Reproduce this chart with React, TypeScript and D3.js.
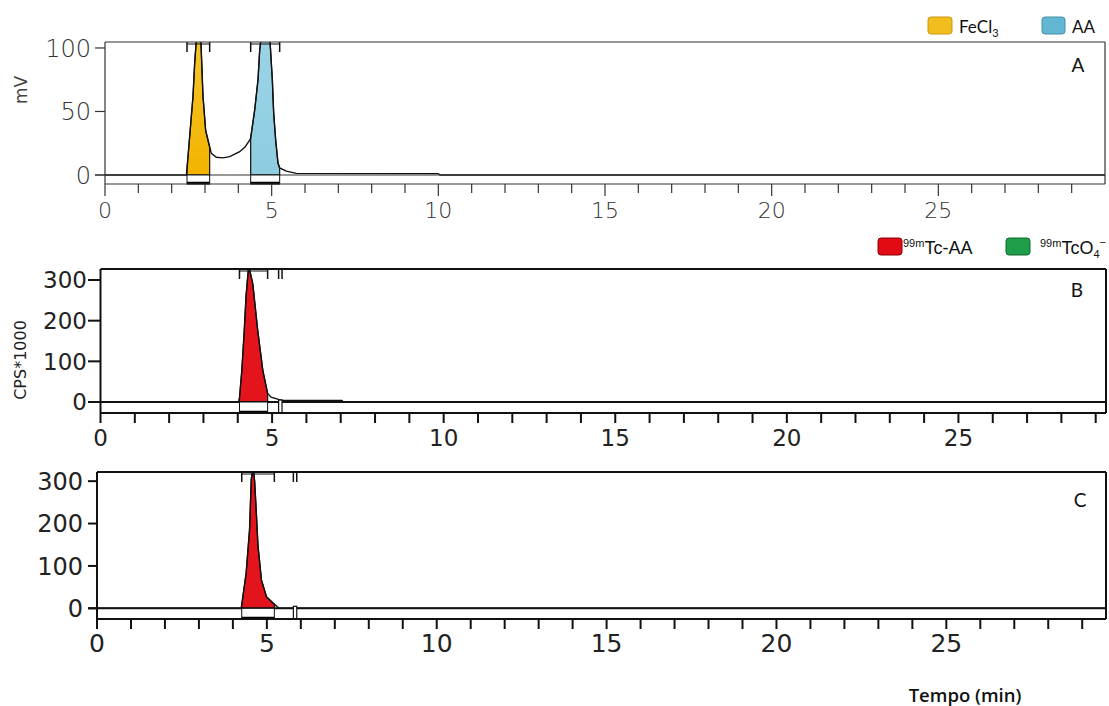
import React from 'react';
import * as d3 from 'd3';

// ---------- DATA ----------
// Panel A (UV, mV)
const timeA = [0, 2.44, 2.46, 2.52, 2.64, 2.69, 2.75, 2.8, 2.87, 2.94, 3.02, 3.14, 3.19, 3.34, 3.54, 3.74, 4.04, 4.2, 4.34, 4.37, 4.49, 4.59, 4.64, 4.69, 4.79, 4.94, 5.02, 5.06, 5.12, 5.19, 5.24, 5.44, 5.74, 10.0, 10.05, 30];
const mvA = [0, 0, 5, 24, 62, 88, 110, 180, 110, 62, 35, 22, 17, 14, 13.5, 14.4, 18.3, 22, 27.5, 29, 51, 75, 98, 110, 180, 110, 75, 49, 27.5, 9.4, 5.5, 3, 1.3, 1.1, 0, 0];
const peakStartA = [2.46, 4.37];
const peakEndA = [3.14, 5.24];
const peakNamesA = ['FeCl3', 'AA'];

// Panel B (radio, CPS*1000)
const timeB = [0, 4.02, 4.05, 4.12, 4.19, 4.24, 4.29, 4.32, 4.36, 4.44, 4.58, 4.73, 4.87, 4.97, 5.21, 5.32, 7.04, 7.07, 29.3];
const cpsB = [0, 0, 10, 80, 177, 259, 309, 335, 320, 289, 177, 78, 21, 12, 6, 4, 4, 0, 0];
const peakStartB = [4.05];
const peakEndB = [4.87];
const extraMarkB = [5.19, 5.29];

// Panel C (radio, CPS*1000)
const timeC = [0, 4.24, 4.26, 4.39, 4.49, 4.54, 4.59, 4.64, 4.69, 4.74, 4.84, 4.99, 5.18, 5.22, 5.3, 5.37, 29.7];
const cpsC = [0, 0, 8, 83, 185, 303, 335, 300, 225, 146, 67, 27, 12.5, 10, 4, 0, 0];
const peakStartC = [4.26];
const peakEndC = [5.22];
const extraMarkC = [5.78, 5.88];

const xTickLabels = [0, 5, 10, 15, 20, 25];
const yTicksA = [0, 50, 100];
const yTicksBC = [0, 100, 200, 300];

// ---------- PANEL ----------
type PanelCfg = {
  id: string;
  time: number[];
  vals: number[];
  xDomain: [number, number];
  xRange: [number, number];
  yDomain: [number, number];
  yRange: [number, number]; // [bottom, top]
  starts: number[];
  ends: number[];
  fills: string[];
  extra?: number[];
  yTicks: number[];
  axisColor: string;
  axisW: number;
  tickW: number;
  textColor: string;
  fontW: number;
  xFont: number;
  yFont: number;
  xLabelY: number;
  yLabelRight: number;
  yTickLeft: number;
  minorLen: number;
  majorLen: number;
};

function Panel({ c }: { c: PanelCfg }) {
  const x = d3.scaleLinear().domain(c.xDomain).range(c.xRange);
  const y = d3.scaleLinear().domain(c.yDomain).range(c.yRange);
  const left = c.xRange[0];
  const right = c.xRange[1];
  const bottom = c.yRange[0];
  const top = c.yRange[1];
  const pts: [number, number][] = c.time.map((t, i) => [t, c.vals[i]]);
  const line = d3.line<[number, number]>().x(d => x(d[0])).y(d => y(d[1]));
  const area = d3
    .area<[number, number]>()
    .x(d => x(d[0]))
    .y0(y(0))
    .y1(d => y(d[1]));
  const minor = d3.range(0, Math.floor(c.xDomain[1]) + 1).filter(v => x(v) <= right - 2);
  return (
    <g>
      <defs>
        <clipPath id={'clip' + c.id}>
          <rect x={left} y={top} width={right - left} height={bottom - top} />
        </clipPath>
      </defs>
      <g clipPath={`url(#clip${c.id})`}>
        {c.starts.map((s, i) => {
          const sub = pts.filter(p => p[0] >= s && p[0] <= c.ends[i]);
          return (
            <path key={i} d={area(sub) || ''} fill={c.fills[i]} stroke="#111" strokeWidth={1.2} />
          );
        })}
        <path d={line(pts) || ''} fill="none" stroke="#111" strokeWidth={1.4} />
      </g>
      <line x1={c.yTickLeft} x2={right} y1={y(0)} y2={y(0)} stroke={c.axisColor} strokeWidth={c.axisW} />
      {c.starts.map((s, i) => (
        <g key={'b' + i}>
          <rect x={x(s)} y={y(0)} width={x(c.ends[i]) - x(s)} height={bottom - y(0)} fill="#fff" stroke="#111" strokeWidth={1} />
          <line x1={x(s)} x2={x(c.ends[i])} y1={bottom - 1} y2={bottom - 1} stroke="#000" strokeWidth={2.5} />
          <line x1={x(s)} x2={x(s)} y1={top} y2={top + 10} stroke="#111" strokeWidth={1.5} />
          <line x1={x(c.ends[i])} x2={x(c.ends[i])} y1={top} y2={top + 10} stroke="#111" strokeWidth={1.5} />
          <line x1={x(s)} x2={x(c.ends[i])} y1={top + 2} y2={top + 2} stroke="#111" strokeWidth={1} />
        </g>
      ))}
      {c.extra && (
        <g>
          <rect x={x(c.extra[0])} y={y(0) - 2} width={x(c.extra[1]) - x(c.extra[0])} height={bottom - y(0) + 2} fill="#fff" stroke="#111" strokeWidth={1.2} />
          <line x1={x(c.extra[0])} x2={x(c.extra[0])} y1={top} y2={top + 10} stroke="#111" strokeWidth={1.5} />
          <line x1={x(c.extra[1])} x2={x(c.extra[1])} y1={top} y2={top + 10} stroke="#111" strokeWidth={1.5} />
        </g>
      )}
      <line x1={left} x2={right} y1={top} y2={top} stroke={c.axisColor} strokeWidth={c.axisW} />
      <line x1={left} x2={right} y1={bottom} y2={bottom} stroke={c.axisColor} strokeWidth={c.axisW} />
      <line x1={left} x2={left} y1={top} y2={bottom} stroke={c.axisColor} strokeWidth={c.axisW} />
      <line x1={right} x2={right} y1={top} y2={bottom} stroke={c.axisColor} strokeWidth={c.axisW} />
      {minor.map(v => (
        <line
          key={'t' + v}
          x1={x(v)}
          x2={x(v)}
          y1={bottom}
          y2={bottom + (v % 5 === 0 ? c.majorLen : c.minorLen)}
          stroke={c.axisColor}
          strokeWidth={c.tickW}
        />
      ))}
      {xTickLabels.map(v => (
        <text key={'l' + v} x={x(v)} y={c.xLabelY} textAnchor="middle" fontFamily="DejaVu Sans" fontWeight={c.fontW} fontSize={c.xFont} fill={c.textColor}>
          {v}
        </text>
      ))}
      {c.yTicks.map(v => (
        <g key={'y' + v}>
          <line x1={c.yTickLeft} x2={left} y1={y(v)} y2={y(v)} stroke={c.axisColor} strokeWidth={c.tickW} />
          <text x={c.yLabelRight} y={y(v) + c.yFont * 0.36} textAnchor="end" fontFamily="DejaVu Sans" fontWeight={c.fontW} fontSize={c.yFont} fill={c.textColor}>
            {v}
          </text>
        </g>
      ))}
    </g>
  );
}

export default function App() {
  const panelA: PanelCfg = {
    id: 'A', time: timeA, vals: mvA,
    xDomain: [0, 30], xRange: [105, 1105],
    yDomain: [-7.1, 104.7], yRange: [184, 42],
    starts: peakStartA, ends: peakEndA,
    fills: ['url(#gYellow)', 'url(#gBlue)'],
    yTicks: yTicksA,
    axisColor: '#333', axisW: 1.2, tickW: 1.2,
    textColor: '#333', fontW: 200,
    xFont: 22, yFont: 24, xLabelY: 218, yLabelRight: 91, yTickLeft: 95,
    minorLen: 9, majorLen: 12,
  };
  const panelB: PanelCfg = {
    id: 'B', time: timeB, vals: cpsB,
    xDomain: [0, 29.3], xRange: [100.5, 1106],
    yDomain: [-27, 327], yRange: [413, 269],
    starts: peakStartB, ends: peakEndB, fills: ['#E3141C'], extra: extraMarkB,
    yTicks: yTicksBC,
    axisColor: '#111', axisW: 2, tickW: 2,
    textColor: '#222', fontW: 400,
    xFont: 23, yFont: 23, xLabelY: 446, yLabelRight: 87, yTickLeft: 88,
    minorLen: 10, majorLen: 10,
  };
  const panelC: PanelCfg = {
    id: 'C', time: timeC, vals: cpsC,
    xDomain: [0, 29.7], xRange: [97, 1106],
    yDomain: [-25.2, 321.6], yRange: [619, 472],
    starts: peakStartC, ends: peakEndC, fills: ['#E3141C'], extra: extraMarkC,
    yTicks: yTicksBC,
    axisColor: '#111', axisW: 2, tickW: 2,
    textColor: '#222', fontW: 400,
    xFont: 25, yFont: 24, xLabelY: 652, yLabelRight: 83, yTickLeft: 88,
    minorLen: 10, majorLen: 10,
  };

  return (
    <svg width={1109} height={706} style={{ position: 'absolute', left: 0, top: 0, background: '#fff' }}>
      <defs>
        <linearGradient id="gYellow" x1="0" y1="0" x2="0" y2="1">
          <stop offset="0" stopColor="#F7D04A" />
          <stop offset="1" stopColor="#F3B300" />
        </linearGradient>
        <linearGradient id="gBlue" x1="0" y1="0" x2="0" y2="1">
          <stop offset="0" stopColor="#A4D8EA" />
          <stop offset="1" stopColor="#8ECCE0" />
        </linearGradient>
      </defs>
      <rect x={0} y={0} width={1109} height={706} fill="#fff" />
      <Panel c={panelA} />
      <Panel c={panelB} />
      <Panel c={panelC} />

      <text transform="translate(27,90) rotate(-90)" textAnchor="middle" fontFamily="DejaVu Sans" fontSize={17} fill="#444">
        mV
      </text>
      <text transform="translate(26,360) rotate(-90)" textAnchor="middle" fontFamily="DejaVu Sans" fontSize={16} fill="#222">
        CPS*1000
      </text>

      <text x={1078} y={72} textAnchor="middle" fontFamily="Lato" fontSize={19} fill="#111">A</text>
      <text x={1077} y={297} textAnchor="middle" fontFamily="Lato" fontSize={19} fill="#111">B</text>
      <text x={1080} y={507} textAnchor="middle" fontFamily="Lato" fontSize={19} fill="#111">C</text>

      <rect x={928} y={17} width={24} height={17} rx={3} fill="#F2BE1E" stroke="#C9980F" strokeWidth={1} />
      <text x={959} y={33} fontFamily="Lato" fontSize={17} fill="#111">
        {peakNamesA[0].slice(0, 4)}
        <tspan fontSize={11} dy={4}>{peakNamesA[0].slice(4)}</tspan>
      </text>
      <rect x={1042} y={17} width={23} height={17} rx={3} fill="#62B6D1" stroke="#4690A8" strokeWidth={1} />
      <text x={1072} y={33} fontFamily="Lato" fontSize={17} fill="#111">
        {peakNamesA[1]}
      </text>

      <rect x={878} y={238} width={24} height={17} rx={3} fill="#E20A14" stroke="#8A0008" strokeWidth={1} />
      <text x={903} y={254} fontFamily="Liberation Sans" fontSize={18} fill="#111">
        <tspan fontSize={11} dy={-7}>99m</tspan>
        <tspan dy={7}>Tc-AA</tspan>
      </text>
      <rect x={1006} y={238} width={24} height={17} rx={3} fill="#1E9E4A" stroke="#116B30" strokeWidth={1} />
      <text x={1040} y={254} fontFamily="Liberation Sans" fontSize={18} fill="#111">
        <tspan fontSize={11} dy={-7}>99m</tspan>
        <tspan dy={7}>TcO</tspan>
        <tspan fontSize={11} dy={4}>4</tspan>
        <tspan fontSize={11} dy={-12}>−</tspan>
      </text>

      <text x={965} y={702} textAnchor="middle" fontFamily="Open Sans" fontWeight={600} fontSize={18.5} fill="#111">
        Tempo (min)
      </text>
    </svg>
  );
}
